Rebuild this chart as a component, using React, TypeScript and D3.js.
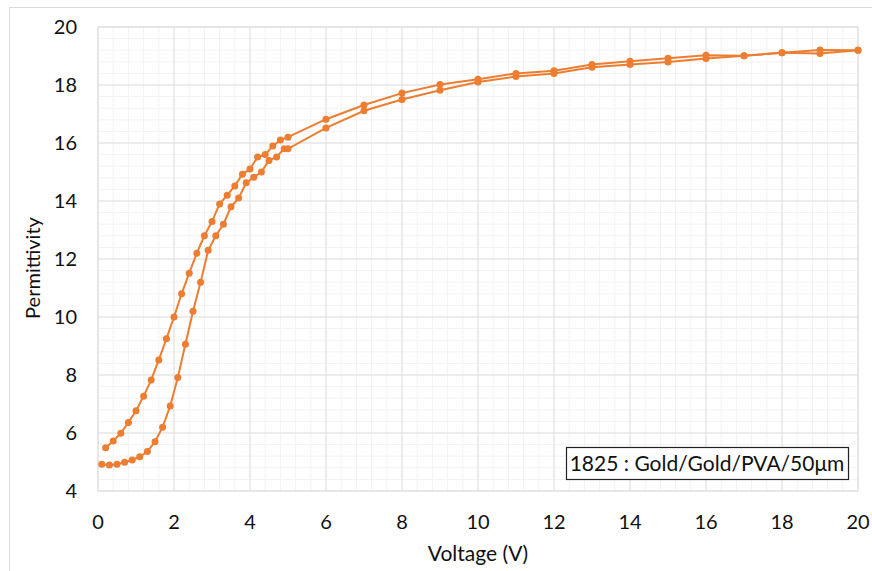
import React from "react";
import * as d3 from "d3";

const lowerV = [0.1, 0.3, 0.5, 0.7, 0.9, 1.1, 1.3, 1.5, 1.7, 1.9, 2.1, 2.3, 2.5, 2.7, 2.9, 3.1, 3.3, 3.5, 3.7, 3.9, 4.1, 4.3, 4.5, 4.7, 4.9, 5.0, 6, 7, 8, 9, 10, 11, 12, 13, 14, 15, 16, 17, 18, 19, 20];
const lowerP = [4.92, 4.9, 4.92, 4.99, 5.07, 5.18, 5.36, 5.7, 6.2, 6.93, 7.91, 9.06, 10.2, 11.2, 12.3, 12.8, 13.2, 13.8, 14.1, 14.63, 14.82, 15.0, 15.4, 15.52, 15.8, 15.8, 16.52, 17.11, 17.5, 17.82, 18.1, 18.29, 18.4, 18.61, 18.71, 18.79, 18.91, 19.01, 19.11, 19.09, 19.2];

const upperV = [0.2, 0.4, 0.6, 0.8, 1.0, 1.2, 1.4, 1.6, 1.8, 2.0, 2.2, 2.4, 2.6, 2.8, 3.0, 3.2, 3.4, 3.6, 3.8, 4.0, 4.2, 4.4, 4.6, 4.8, 5.0, 6, 7, 8, 9, 10, 11, 12, 13, 14, 15, 16, 17, 18, 19, 20];
const upperP = [5.49, 5.72, 5.99, 6.36, 6.77, 7.27, 7.83, 8.52, 9.25, 10.0, 10.8, 11.51, 12.2, 12.8, 13.29, 13.9, 14.2, 14.52, 14.92, 15.1, 15.52, 15.6, 15.9, 16.1, 16.2, 16.82, 17.31, 17.72, 18.02, 18.2, 18.4, 18.49, 18.71, 18.82, 18.92, 19.03, 19.01, 19.11, 19.21, 19.2];

const xTicks = [0, 2, 4, 6, 8, 10, 12, 14, 16, 18, 20];
const yTicks = [4, 6, 8, 10, 12, 14, 16, 18, 20];
const legendText = "1825 : Gold/Gold/PVA/50μm";
const xTitle = "Voltage (V)";
const yTitle = "Permittivity";

const W = 872;
const H = 571;
const L = 98, R = 858, T = 27, B = 491;
const COLOR = "#ED7D31";
const FONT = "Lato, 'Open Sans', sans-serif";

export default function App() {
  const x = d3.scaleLinear().domain([0, 20]).range([L, R]);
  const y = d3.scaleLinear().domain([4, 20]).range([B, T]);
  const minorX = d3.range(0, 20.001, 0.4);
  const minorY = d3.range(4, 20.001, 0.4);
  const line = d3.line<[number, number]>().x(d => x(d[0])).y(d => y(d[1]));
  const series = [
    lowerV.map((v, i) => [v, lowerP[i]] as [number, number]),
    upperV.map((v, i) => [v, upperP[i]] as [number, number]),
  ];
  return (
    <svg width={W} height={H} style={{ position: "absolute", left: 0, top: 0, background: "#fff" }} fontFamily={FONT}>
      <rect x={9.5} y={7.5} width={W} height={H} fill="#fff" stroke="#d9d9d9" />
      {minorX.map((v, i) => (
        <line key={"mx" + i} x1={x(v)} x2={x(v)} y1={T} y2={B} stroke="#f2f2f2" strokeWidth={1} />
      ))}
      {minorY.map((v, i) => (
        <line key={"my" + i} x1={L} x2={R} y1={y(v)} y2={y(v)} stroke="#f2f2f2" strokeWidth={1} />
      ))}
      {xTicks.map(v => (
        <line key={"gx" + v} x1={x(v)} x2={x(v)} y1={T} y2={B} stroke="#e0e0e0" strokeWidth={1} />
      ))}
      {yTicks.map(v => (
        <line key={"gy" + v} x1={L} x2={R} y1={y(v)} y2={y(v)} stroke="#e0e0e0" strokeWidth={1} />
      ))}
      <rect x={L} y={T} width={R - L} height={B - T} fill="none" stroke="#e0e0e0" />
      {series.map((s, k) => (
        <g key={"s" + k}>
          <path d={line(s) || ""} fill="none" stroke={COLOR} strokeWidth={2} />
          {s.map((d, i) => (
            <circle key={i} cx={x(d[0])} cy={y(d[1])} r={3.5} fill={COLOR} />
          ))}
        </g>
      ))}
      {xTicks.map(v => (
        <text key={"tx" + v} x={x(v)} y={529} textAnchor="middle" fontSize={20} fill="#111">{v}</text>
      ))}
      {yTicks.map(v => (
        <text key={"ty" + v} x={77} y={y(v)} dy="0.35em" textAnchor="end" fontSize={20} fill="#111">{v}</text>
      ))}
      <text x={(L + R) / 2} y={561} textAnchor="middle" fontSize={21} fill="#111">{xTitle}</text>
      <text transform={`translate(40,268) rotate(-90)`} textAnchor="middle" fontSize={20} fill="#111">{yTitle}</text>
      <rect x={566.5} y={447.5} width={282} height={32} fill="#fff" stroke="#222" strokeWidth={1.2} />
      <text x={707} y={470.5} textAnchor="middle" fontSize={21} fill="#111">{legendText}</text>
    </svg>
  );
}
